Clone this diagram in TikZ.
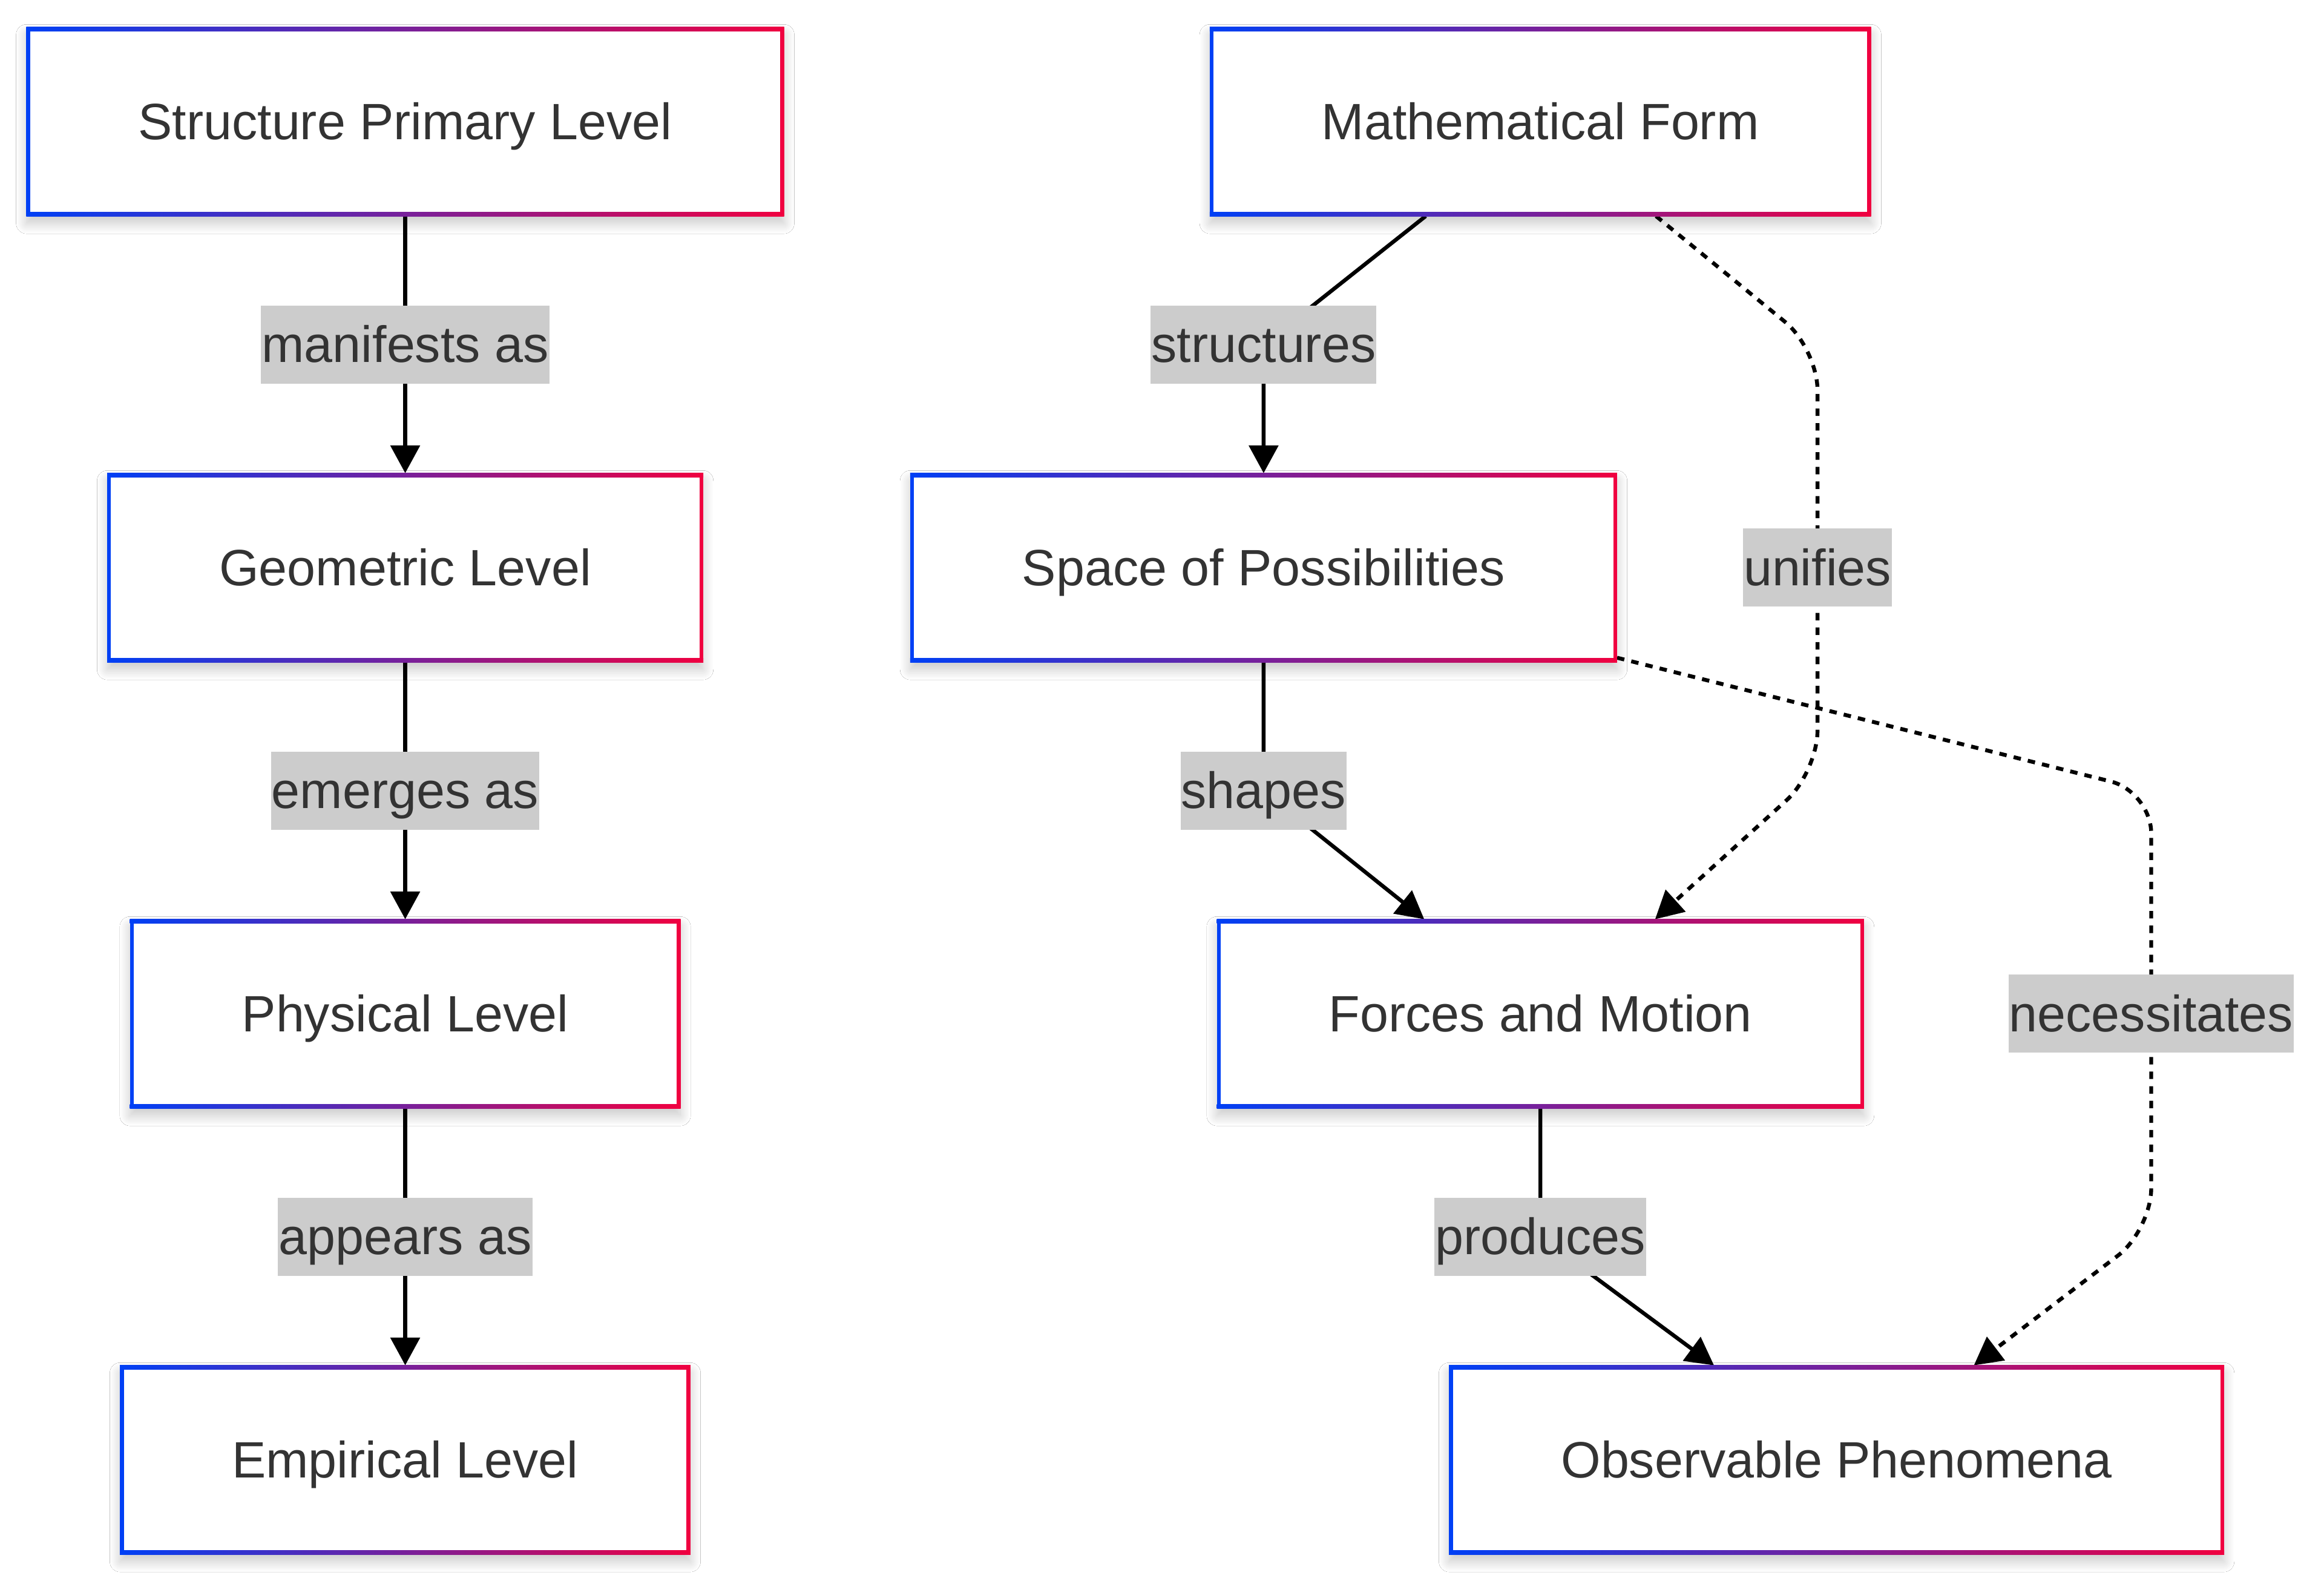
\documentclass[tikz,border=0pt]{standalone}
\usepackage{fontspec}
\setmainfont{Liberation Sans}
\usetikzlibrary{arrows.meta,shadows.blur}
\definecolor{bc}{RGB}{0,64,245}
\definecolor{rc}{RGB}{240,0,64}
\definecolor{txt}{RGB}{51,51,51}
\definecolor{lblbg}{RGB}{204,204,204}
\begin{document}
\begin{tikzpicture}[x=1pt,y=-1pt,
  box/.style={fill=white, text=txt, font=\fontsize{34.3}{41}\selectfont,
    inner xsep=75pt, inner ysep=0pt, minimum height=126.5pt,
    text height=31pt, text depth=7.3pt,
    blur shadow={shadow xshift=0pt,shadow yshift=-5pt,shadow blur radius=7pt,shadow blur steps=20,shadow opacity=22}},
  lbl/.style={fill=lblbg, text=txt, font=\fontsize{34.3}{41}\selectfont,
    inner xsep=0.5pt, inner ysep=7pt, text height=31pt, text depth=7.3pt},
  edge/.style={draw=black, line width=2.6pt, -{Triangle[length=18.6pt,width=19.5pt]}},
  dashedge/.style={edge, dash pattern=on 5pt off 4.8pt, rounded corners=28pt},
]
\useasboundingbox (0,0) rectangle (1560,1063);
\fill[white] (0,0) rectangle (1560,1063);

% nodes
\node[box] (sp1) at (272,81.6) {Structure Primary Level};
\node[box] (geo) at (272,381) {Geometric Level};
\node[box] (phy) at (272,680.4) {Physical Level};
\node[box] (emp) at (272,979.8) {Empirical Level};
\node[box] (mat) at (1034,81.6) {Mathematical Form};
\node[box] (spc) at (848.2,381) {Space of Possibilities};
\node[box] (frc) at (1034,680.4) {Forces and Motion};
\node[box] (obs) at (1232.8,979.8) {Observable Phenomena};

% label positions and bends
\coordinate (lmani) at (272,231.3);
\coordinate (lemer) at (272,530.7);
\coordinate (lappe) at (272,830.1);
\coordinate (lstru) at (848.2,231.3);
\coordinate (lshap) at (848.2,530.7);
\coordinate (lprod) at (1034,830.1);
\coordinate (lunif) at (1220,381);
\coordinate (lnece) at (1444,680.4);
\coordinate (kun1) at (1220,233.9);
\coordinate (kun2) at (1220,518.3);
\coordinate (kne1) at (1444,531.3);
\coordinate (kne2) at (1444,825.7);

% edges
\draw[edge] (sp1.south) -- (geo.north);
\draw[edge] (geo.south) -- (phy.north);
\draw[edge] (phy.south) -- (emp.north);
\draw[edge] ([xshift=-77pt]mat.south) -- (lstru) -- (spc.north);
\draw[edge] (spc.south) -- (lshap) -- ([xshift=-78pt]frc.north);
\draw[edge] (frc.south) -- (lprod) -- ([xshift=-82.3pt]obs.north);
\draw[dashedge] ([xshift=77.6pt]mat.south) -- (kun1) -- (kun2) -- ([xshift=77pt]frc.north);
\draw[dashedge] ([yshift=3pt]spc.south east) -- (kne1) -- (kne2) -- ([xshift=92.2pt]obs.north);

% gradient frames
\foreach \n in {sp1,geo,phy,emp,mat,spc,frc,obs}{
  \shade[left color=bc, right color=rc] (\n.north west) rectangle ([yshift=-2.6pt]\n.north east);
  \shade[left color=bc, right color=rc] ([yshift=2.6pt]\n.south west) rectangle (\n.south east);
  \fill[bc] (\n.north west) rectangle ([xshift=2.6pt]\n.south west);
  \fill[rc] ([xshift=-2.6pt]\n.north east) rectangle (\n.south east);
}

% labels
\node[lbl] (tmani) at (lmani) {manifests as};
\node[lbl] (temer) at (lemer) {emerges as};
\node[lbl] (tappe) at (lappe) {appears as};
\node[lbl] (tstru) at (lstru) {structures};
\node[lbl] (tshap) at (lshap) {shapes};
\node[lbl] (tprod) at (lprod) {produces};
\node[lbl] (tunif) at (lunif) {unifies};
\node[lbl] (tnece) at (lnece) {necessitates};
\end{tikzpicture}
\end{document}
